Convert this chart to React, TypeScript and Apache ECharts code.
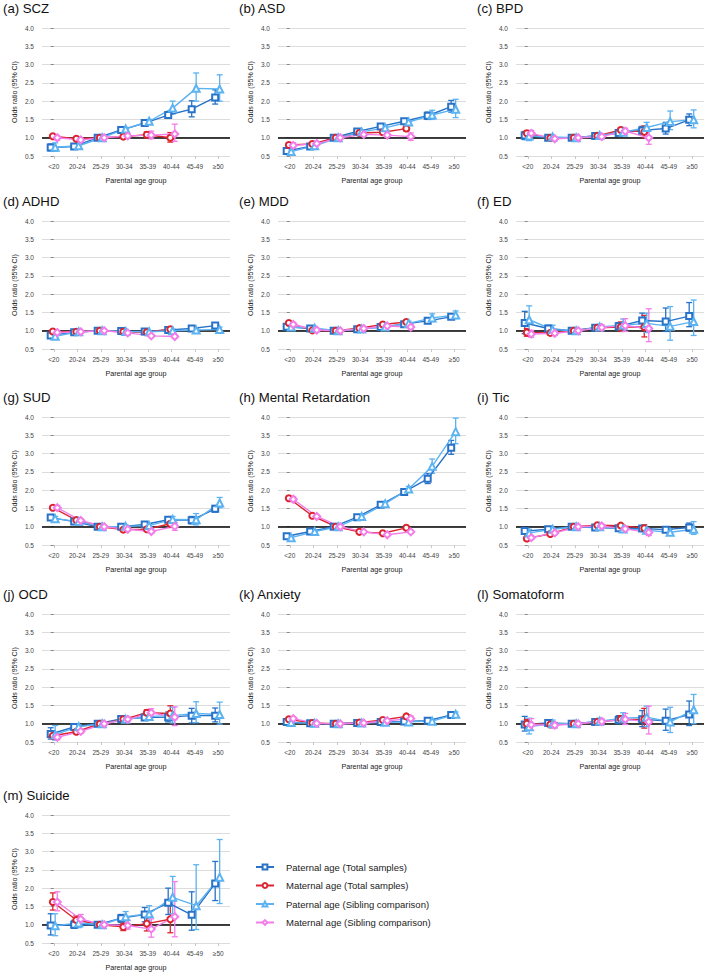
import React, { useEffect, useRef } from "react";
import * as echarts from "echarts";

const CATEGORIES = ["<20", "20-24", "25-29", "30-34", "35-39", "40-44", "45-49", "≥50"];
const SERIES_NAMES = [
  "Paternal age (Total samples)",
  "Maternal age (Total samples)",
  "Paternal age (Sibling comparison)",
  "Maternal age (Sibling comparison)",
];
const X_NAME = "Parental age group";
const Y_NAME = "Odds ratio (95% CI)";

// [odds ratio, lower CI, upper CI]
const SCZ_PT = [[0.73,0.64,0.83],[0.76,0.73,0.80],[1,1,1],[1.21,1.17,1.25],[1.40,1.35,1.45],[1.62,1.54,1.70],[1.78,1.57,2.01],[2.10,1.92,2.31]];
const SCZ_MT = [[1.04,1.00,1.08],[0.97,0.94,1.00],[1,1,1],[1.03,1.00,1.07],[1.08,1.00,1.16],[1.00,0.88,1.14]];
const SCZ_PS = [[0.74,0.63,0.86],[0.78,0.74,0.82],[1,1,1],[1.24,1.20,1.28],[1.45,1.40,1.50],[1.81,1.65,2.00],[2.35,2.00,2.77],[2.33,2.00,2.72]];
const SCZ_MS = [[1.00,0.93,1.06],[0.94,0.90,0.98],[1,1,1],[1.05,1.00,1.10],[1.07,0.97,1.18],[1.10,0.90,1.37]];

const ASD_PT = [[0.64,0.58,0.70],[0.76,0.73,0.80],[1,1,1],[1.17,1.13,1.21],[1.31,1.27,1.34],[1.45,1.40,1.50],[1.60,1.50,1.70],[1.85,1.70,2.02]];
const ASD_MT = [[0.80,0.75,0.85],[0.83,0.80,0.86],[1,1,1],[1.13,1.10,1.16],[1.15,1.11,1.19],[1.25,1.18,1.32]];
const ASD_PS = [[0.62,0.55,0.70],[0.78,0.73,0.83],[1,1,1],[1.16,1.12,1.21],[1.27,1.23,1.31],[1.43,1.37,1.49],[1.62,1.50,1.75],[1.78,1.55,2.05]];
const ASD_MS = [[0.79,0.72,0.86],[0.84,0.80,0.88],[1,1,1],[1.09,1.05,1.14],[1.07,1.02,1.12],[1.03,0.93,1.13]];

const BPD_PT = [[1.06,0.95,1.17],[1.00,0.96,1.04],[1,1,1],[1.05,1.02,1.08],[1.13,1.08,1.18],[1.20,1.10,1.31],[1.25,1.10,1.42],[1.49,1.33,1.65]];
const BPD_MT = [[1.12,1.05,1.19],[0.99,0.95,1.03],[1,1,1],[1.05,1.01,1.09],[1.21,1.14,1.28],[1.16,1.00,1.32]];
const BPD_PS = [[1.05,0.92,1.18],[1.02,0.97,1.07],[1,1,1],[1.06,1.02,1.10],[1.15,1.08,1.22],[1.28,1.15,1.42],[1.44,1.22,1.73],[1.49,1.27,1.76]];
const BPD_MS = [[1.12,1.04,1.20],[0.97,0.93,1.01],[1,1,1],[1.03,0.98,1.08],[1.18,1.10,1.26],[1.00,0.82,1.22]];

const ADHD_PT = [[0.87,0.84,0.90],[0.96,0.94,0.98],[1,1,1],[0.99,0.97,1.01],[0.98,0.96,1.00],[1.02,0.99,1.05],[1.06,1.02,1.10],[1.14,1.08,1.20]];
const ADHD_MT = [[0.98,0.96,1.00],[0.97,0.95,0.99],[1,1,1],[0.97,0.95,0.99],[0.96,0.93,0.99],[1.04,1.00,1.08]];
const ADHD_PS = [[0.85,0.80,0.90],[0.97,0.94,1.00],[1,1,1],[0.98,0.96,1.00],[0.97,0.94,1.00],[1.00,0.96,1.04],[1.02,0.97,1.07],[1.03,0.96,1.10]];
const ADHD_MS = [[0.95,0.92,0.98],[0.97,0.94,1.00],[1,1,1],[0.94,0.92,0.96],[0.86,0.83,0.89],[0.84,0.80,0.88]];

const MDD_PT = [[1.11,1.07,1.15],[1.06,1.03,1.09],[1,1,1],[1.04,1.02,1.06],[1.10,1.07,1.13],[1.18,1.14,1.22],[1.27,1.21,1.33],[1.38,1.32,1.45]];
const MDD_MT = [[1.21,1.17,1.25],[1.01,0.98,1.04],[1,1,1],[1.07,1.05,1.09],[1.17,1.14,1.20],[1.24,1.19,1.29]];
const MDD_PS = [[1.10,1.04,1.16],[1.07,1.03,1.11],[1,1,1],[1.05,1.02,1.08],[1.10,1.06,1.14],[1.20,1.14,1.26],[1.35,1.25,1.46],[1.43,1.33,1.54]];
const MDD_MS = [[1.17,1.11,1.23],[1.02,0.98,1.06],[1,1,1],[1.06,1.03,1.09],[1.13,1.09,1.17],[1.10,1.03,1.17]];

const ED_PT = [[1.21,0.92,1.53],[1.06,0.97,1.15],[1,1,1],[1.08,1.03,1.13],[1.12,1.02,1.22],[1.28,1.08,1.48],[1.25,0.98,1.62],[1.40,1.11,1.77]];
const ED_MT = [[0.95,0.85,1.06],[0.94,0.88,1.00],[1,1,1],[1.08,1.03,1.13],[1.10,0.98,1.24],[1.10,0.83,1.42]];
const ED_PS = [[1.30,0.97,1.68],[1.03,0.92,1.15],[1,1,1],[1.10,1.03,1.17],[1.15,1.00,1.32],[1.20,0.95,1.48],[1.12,0.74,1.66],[1.25,0.87,1.84]];
const ED_MS = [[0.91,0.82,1.01],[0.93,0.87,0.99],[1,1,1],[1.09,1.02,1.16],[1.14,0.98,1.33],[1.06,0.70,1.60]];

const SUD_PT = [[1.25,1.21,1.29],[1.14,1.10,1.18],[1,1,1],[1.00,0.97,1.03],[1.06,1.02,1.10],[1.19,1.13,1.25],[1.18,1.08,1.28],[1.49,1.40,1.58]];
const SUD_MT = [[1.52,1.48,1.56],[1.18,1.15,1.21],[1,1,1],[0.92,0.89,0.95],[0.93,0.89,0.97],[1.08,0.98,1.18]];
const SUD_PS = [[1.22,1.16,1.28],[1.14,1.09,1.19],[1,1,1],[1.01,0.97,1.05],[1.03,0.98,1.08],[1.20,1.12,1.28],[1.19,1.05,1.36],[1.65,1.52,1.80]];
const SUD_MS = [[1.52,1.46,1.58],[1.17,1.12,1.22],[1,1,1],[0.93,0.89,0.97],[0.87,0.82,0.92],[1.01,0.90,1.12]];

const MR_PT = [[0.74,0.70,0.78],[0.87,0.84,0.90],[1,1,1],[1.26,1.22,1.30],[1.60,1.56,1.64],[1.95,1.89,2.01],[2.31,2.18,2.45],[3.16,2.98,3.36]];
const MR_MT = [[1.78,1.73,1.83],[1.30,1.27,1.33],[1,1,1],[0.86,0.84,0.88],[0.82,0.79,0.85],[0.97,0.93,1.01]];
const MR_PS = [[0.70,0.65,0.75],[0.87,0.84,0.90],[1,1,1],[1.28,1.24,1.32],[1.63,1.58,1.68],[2.03,1.96,2.10],[2.65,2.46,2.85],[3.60,3.27,3.97]];
const MR_MS = [[1.75,1.68,1.82],[1.28,1.25,1.31],[1,1,1],[0.86,0.83,0.89],[0.78,0.75,0.81],[0.86,0.82,0.90]];

const TIC_PT = [[0.88,0.80,0.98],[0.93,0.89,0.97],[1,1,1],[0.98,0.95,1.01],[0.96,0.93,0.99],[0.95,0.90,1.00],[0.92,0.85,0.99],[0.98,0.88,1.10]];
const TIC_MT = [[0.68,0.64,0.72],[0.80,0.77,0.83],[1,1,1],[1.04,1.00,1.08],[1.03,0.99,1.07],[0.96,0.88,1.05]];
const TIC_PS = [[0.83,0.74,0.93],[0.93,0.89,0.97],[1,1,1],[1.00,0.96,1.04],[0.94,0.90,0.98],[0.90,0.83,0.97],[0.85,0.77,0.94],[0.93,0.79,1.14]];
const TIC_MS = [[0.70,0.65,0.75],[0.83,0.79,0.87],[1,1,1],[1.02,0.98,1.06],[0.94,0.90,0.98],[0.84,0.76,0.93]];

const OCD_PT = [[0.72,0.58,0.89],[0.91,0.86,0.96],[1,1,1],[1.13,1.09,1.17],[1.17,1.10,1.25],[1.18,1.05,1.32],[1.22,1.02,1.42],[1.22,1.05,1.43]];
const OCD_MT = [[0.67,0.60,0.74],[0.78,0.74,0.82],[1,1,1],[1.12,1.08,1.16],[1.30,1.22,1.38],[1.28,1.10,1.49]];
const OCD_PS = [[0.70,0.55,0.95],[0.92,0.87,0.97],[1,1,1],[1.12,1.08,1.16],[1.20,1.10,1.32],[1.22,1.02,1.45],[1.28,1.03,1.60],[1.25,0.99,1.59]];
const OCD_MS = [[0.63,0.56,0.70],[0.79,0.74,0.84],[1,1,1],[1.12,1.07,1.17],[1.30,1.20,1.41],[1.18,0.95,1.46]];

const ANX_PT = [[1.05,1.01,1.09],[1.01,0.99,1.03],[1,1,1],[1.02,1.00,1.04],[1.05,1.03,1.07],[1.06,1.02,1.10],[1.08,1.04,1.12],[1.24,1.19,1.29]];
const ANX_MT = [[1.12,1.08,1.16],[1.02,1.00,1.04],[1,1,1],[1.03,1.01,1.05],[1.10,1.07,1.13],[1.20,1.15,1.25]];
const ANX_PS = [[1.03,0.98,1.08],[1.01,0.98,1.04],[1,1,1],[1.02,1.00,1.04],[1.04,1.01,1.07],[1.05,1.01,1.09],[1.07,1.02,1.12],[1.26,1.20,1.32]];
const ANX_MS = [[1.14,1.09,1.19],[1.01,0.98,1.04],[1,1,1],[1.02,0.99,1.05],[1.08,1.05,1.11],[1.14,1.07,1.21]];

const SOM_PT = [[0.98,0.80,1.20],[1.02,0.94,1.10],[1,1,1],[1.05,0.99,1.11],[1.10,1.00,1.22],[1.12,0.92,1.36],[1.08,0.82,1.40],[1.25,0.95,1.62]];
const SOM_MT = [[1.00,0.88,1.12],[0.98,0.92,1.04],[1,1,1],[1.05,1.00,1.10],[1.12,1.02,1.22],[1.12,0.88,1.42]];
const SOM_PS = [[0.92,0.72,1.15],[1.00,0.90,1.10],[1,1,1],[1.07,0.99,1.15],[1.15,1.02,1.30],[1.18,0.92,1.48],[1.05,0.76,1.45],[1.38,1.00,1.80]];
const SOM_MS = [[0.97,0.82,1.14],[0.96,0.88,1.04],[1,1,1],[1.06,0.99,1.13],[1.12,0.98,1.28],[1.05,0.72,1.48]];

const SUI_PT = [[0.98,0.72,1.30],[1.00,0.90,1.12],[1,1,1],[1.18,1.06,1.28],[1.28,1.08,1.47],[1.60,1.28,2.00],[1.27,0.85,1.90],[2.13,1.66,2.73]];
const SUI_MT = [[1.62,1.40,1.87],[1.13,1.02,1.24],[1,1,1],[0.94,0.84,1.04],[1.03,0.83,1.26],[1.15,0.78,1.68]];
const SUI_PS = [[0.97,0.70,1.30],[1.05,0.92,1.20],[1,1,1],[1.22,1.10,1.36],[1.30,1.10,1.52],[1.75,1.30,2.32],[1.52,0.87,2.64],[2.30,1.58,3.33]];
const SUI_MS = [[1.62,1.38,1.90],[1.15,1.02,1.28],[1,1,1],[0.98,0.88,1.12],[0.88,0.66,1.16],[1.22,0.67,2.18]];

const PANEL_TITLES = [
  "(a) SCZ", "(b) ASD", "(c) BPD", "(d) ADHD", "(e) MDD", "(f) ED", "(g) SUD",
  "(h) Mental Retardation", "(i) Tic", "(j) OCD", "(k) Anxiety", "(l) Somatoform", "(m) Suicide",
];
const PANEL_DATA = [
  [SCZ_PT, SCZ_MT, SCZ_PS, SCZ_MS],
  [ASD_PT, ASD_MT, ASD_PS, ASD_MS],
  [BPD_PT, BPD_MT, BPD_PS, BPD_MS],
  [ADHD_PT, ADHD_MT, ADHD_PS, ADHD_MS],
  [MDD_PT, MDD_MT, MDD_PS, MDD_MS],
  [ED_PT, ED_MT, ED_PS, ED_MS],
  [SUD_PT, SUD_MT, SUD_PS, SUD_MS],
  [MR_PT, MR_MT, MR_PS, MR_MS],
  [TIC_PT, TIC_MT, TIC_PS, TIC_MS],
  [OCD_PT, OCD_MT, OCD_PS, OCD_MS],
  [ANX_PT, ANX_MT, ANX_PS, ANX_MS],
  [SOM_PT, SOM_MT, SOM_PS, SOM_MS],
  [SUI_PT, SUI_MT, SUI_PS, SUI_MS],
];

// styling
const COLORS = ["#2872c8", "#dc2430", "#5cb3f2", "#f37de9"];
const SYMBOLS = ["emptyRect", "emptyCircle", "emptyTriangle", "emptyDiamond"];
const SYMBOL_SIZES = [6, 6, 7, 7];
const OFFSETS = [-0.13, -0.04, 0.06, 0.15];
const COL_LEFT = [42, 278, 516];
const ROW_TOP = [28, 221, 417, 614, 815];
const GRID_W = 188;
const GRID_H = 128;
const FONT = "'Liberation Sans', Arial, Helvetica, sans-serif";

function buildOption() {
  const grid: any[] = [];
  const xAxis: any[] = [];
  const yAxis: any[] = [];
  const title: any[] = [];
  const series: any[] = [];

  PANEL_DATA.forEach((panel, i) => {
    const col = i % 3;
    const row = Math.floor(i / 3);
    grid.push({ left: COL_LEFT[col], top: ROW_TOP[row], width: GRID_W, height: GRID_H });
    title.push({
      text: PANEL_TITLES[i],
      left: COL_LEFT[col] - 39,
      top: ROW_TOP[row] - 26,
      padding: 0,
      textStyle: { fontSize: 13.2, fontWeight: "normal", color: "#111", fontFamily: FONT },
    });
    xAxis.push({
      type: "category",
      gridIndex: i,
      data: CATEGORIES,
      boundaryGap: true,
      axisLine: { show: false },
      axisTick: { show: true, alignWithLabel: true, length: 3, lineStyle: { color: "#c8c8c8" } },
      axisLabel: { fontSize: 6.5, color: "#444", margin: 7, interval: 0, fontFamily: FONT },
      splitLine: { show: false },
      name: X_NAME,
      nameLocation: "middle",
      nameGap: 21,
      nameTextStyle: { fontSize: 7.2, color: "#222", fontFamily: FONT },
    });
    xAxis.push({
      type: "value",
      gridIndex: i,
      min: -0.5,
      max: 7.5,
      show: false,
      splitLine: { show: false },
    });
    yAxis.push({
      type: "value",
      gridIndex: i,
      min: 0.5,
      max: 4,
      interval: 0.5,
      axisLine: { show: false },
      axisTick: { show: true, length: 3, lineStyle: { color: "#888" } },
      axisLabel: { fontSize: 6.5, color: "#444", margin: 8, fontFamily: FONT, formatter: (v: number) => v.toFixed(1) },
      splitLine: { lineStyle: { color: "#dcdcdc", width: 1 } },
      name: Y_NAME,
      nameLocation: "middle",
      nameGap: 24,
      nameTextStyle: { fontSize: 7, color: "#222", fontFamily: FONT },
    });

    panel.forEach((arr, k) => {
      const color = COLORS[k];
      const errData = arr
        .map((d, j) => [j + OFFSETS[k], d[1], d[2]])
        .filter((d) => d[1] !== d[2]);
      series.push({
        type: "custom",
        name: "ci-" + k,
        xAxisIndex: 2 * i + 1,
        yAxisIndex: i,
        z: 2,
        silent: true,
        encode: { x: 0, y: [1, 2] },
        data: errData,
        renderItem: (params: any, api: any) => {
          const x = api.value(0);
          const lo = api.coord([x, api.value(1)]);
          const hi = api.coord([x, api.value(2)]);
          const cw = 3;
          const style = { stroke: color, lineWidth: 1.3, fill: "none" };
          return {
            type: "group",
            children: [
              { type: "line", shape: { x1: lo[0], y1: lo[1], x2: hi[0], y2: hi[1] }, style },
              { type: "line", shape: { x1: lo[0] - cw, y1: lo[1], x2: lo[0] + cw, y2: lo[1] }, style },
              { type: "line", shape: { x1: hi[0] - cw, y1: hi[1], x2: hi[0] + cw, y2: hi[1] }, style },
            ],
          };
        },
      });
    });

    panel.forEach((arr, k) => {
      const color = COLORS[k];
      const s: any = {
        type: "line",
        name: SERIES_NAMES[k],
        xAxisIndex: 2 * i + 1,
        yAxisIndex: i,
        z: 3,
        data: arr.map((d, j) => [j + OFFSETS[k], d[0]]),
        symbol: SYMBOLS[k],
        symbolSize: SYMBOL_SIZES[k],
        showAllSymbol: true,
        lineStyle: { color, width: 1.4 },
        itemStyle: { color, borderColor: color, borderWidth: 1.3 },
        emphasis: { disabled: true },
      };
      if (k === 0) {
        s.markLine = {
          silent: true,
          symbol: ["none", "none"],
          label: { show: false },
          lineStyle: { color: "#000", width: 1.5, type: "solid" },
          data: [{ yAxis: 1 }],
          z: 1,
        };
      }
      series.push(s);
    });
  });

  return {
    animation: false,
    backgroundColor: "#fff",
    textStyle: { fontFamily: FONT },
    title,
    grid,
    xAxis,
    yAxis,
    legend: {
      data: SERIES_NAMES,
      orient: "vertical",
      left: 250,
      top: 857,
      itemWidth: 18,
      itemHeight: 6,
      itemGap: 8.5,
      selectedMode: false,
      textStyle: { fontSize: 9.5, color: "#222", fontFamily: FONT, padding: [0, 0, 0, 7] },
    },
    series,
  };
}

export default function App() {
  const ref = useRef<HTMLDivElement>(null);
  useEffect(() => {
    if (!ref.current) return;
    const chart = echarts.init(ref.current, null, { renderer: "svg" });
    chart.setOption(buildOption() as any);
    return () => chart.dispose();
  }, []);
  return (
    <div
      ref={ref}
      style={{ position: "absolute", left: 0, top: 0, width: 710, height: 975, background: "#fff" }}
    />
  );
}
